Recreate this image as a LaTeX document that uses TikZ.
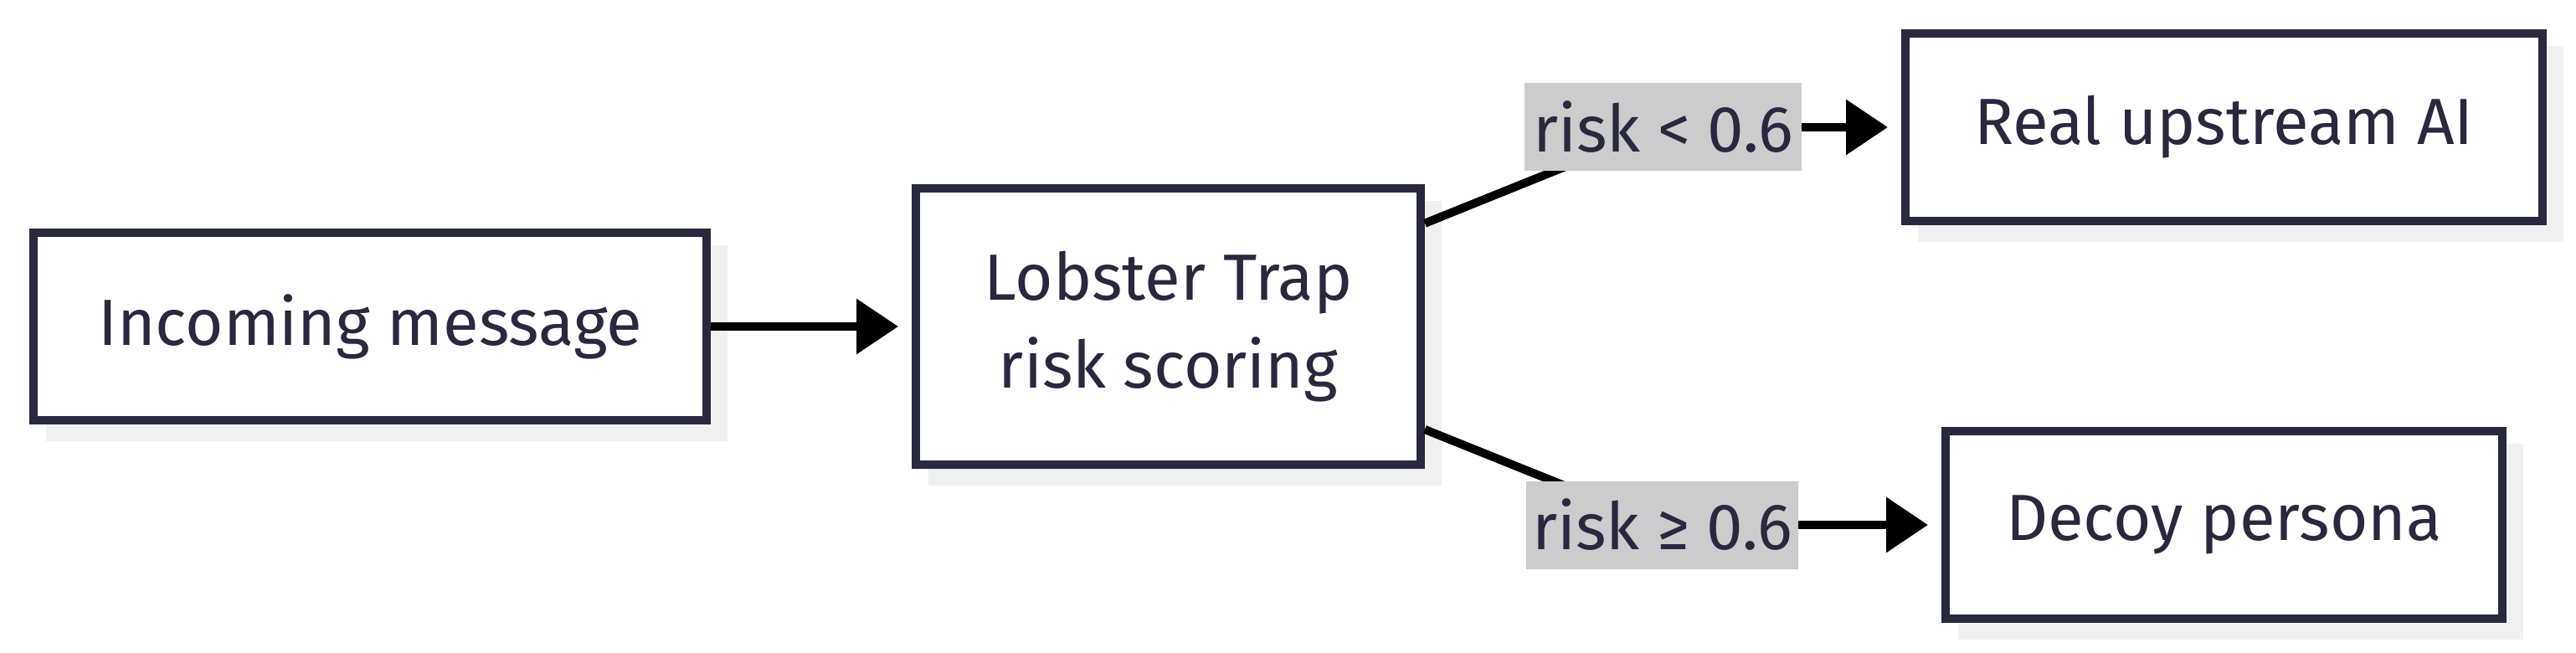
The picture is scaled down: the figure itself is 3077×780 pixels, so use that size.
\documentclass[tikz,border=0pt]{standalone}
\usepackage{fontspec}
\setmainfont{Fira Sans}
\usetikzlibrary{arrows.meta,shadows}
\definecolor{boxline}{RGB}{40,40,62}
\definecolor{txt}{RGB}{40,40,62}
\definecolor{shadowgray}{RGB}{240,240,240}
\definecolor{labelbg}{RGB}{204,204,204}
\begin{document}
\begin{tikzpicture}[x=0.25pt,y=-0.25pt,
  box/.style={draw=boxline, line width=2.5pt, fill=white, inner sep=0pt, text=txt,
    font=\fontsize{19.5}{26.25}\selectfont, align=center,
    general shadow={fill=shadowgray, draw=shadowgray, shadow xshift=5pt, shadow yshift=-5pt}},
  edgelabel/.style={fill=labelbg, inner xsep=0pt, inner ysep=0pt, minimum height=26.25pt,
    text=txt, font=\fontsize{19.5}{26.25}\selectfont, outer sep=0pt},
  conn/.style={draw=black, line width=2.5pt},
  arr/.style={conn, -{Triangle[length=12.5pt,width=16pt]}, shorten >=4pt}]
\useasboundingbox (0,0) rectangle (3077,780);
\node[box, minimum width=201pt, minimum height=56pt] (inc) at (442,390) {Incoming message};
\node[box, minimum width=150.75pt, minimum height=82.5pt] (lob) at (1395.5,390) {Lobster Trap\\risk scoring};
\node[box, minimum width=190.25pt, minimum height=56pt] (real) at (2656.5,152) {Real upstream AI};
\node[box, minimum width=166.25pt, minimum height=56pt] (decoy) at (2656.5,627) {Decoy persona};
\coordinate (l1) at (1986.5,152);
\coordinate (l2) at (1985.5,627);
\draw[conn] (lob) -- (l1);
\draw[conn] (lob) -- (l2);
\node[edgelabel, minimum width=82.75pt] (lab1) at (l1) {risk < 0.6};
\node[edgelabel, minimum width=81.25pt] (lab2) at (l2) {risk ≥ 0.6};
\draw[arr] (inc) -- (lob);
\draw[arr] (lab1) -- (real);
\draw[arr] (lab2) -- (decoy);
\end{tikzpicture}
\end{document}
